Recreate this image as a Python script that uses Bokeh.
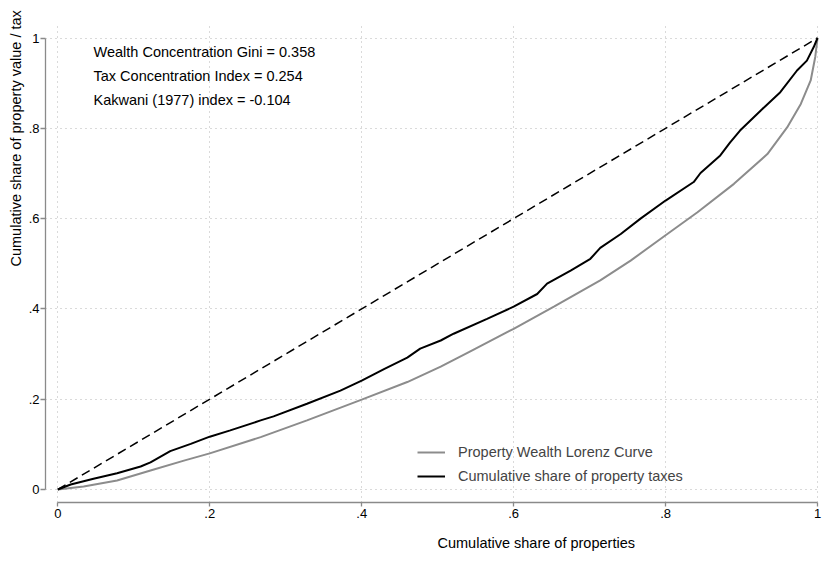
from bokeh.plotting import figure
from bokeh.models import Range1d, FixedTicker, Legend, LegendItem, ColumnDataSource, Title
from bokeh.core.properties import value
from bokeh.embed import file_html
from bokeh.resources import INLINE

# Property wealth Lorenz curve (cumulative share of properties vs. cumulative share of value)
lorenz_x = [0, .034, .078, .122, .166, .2, .267, .328, .4, .460, .504, .543, .6, .653,
            .714, .754, .8, .842, .890, .934, .960, .978, .991, .997, 1]
lorenz_y = [0, .0066, .020, .042, .064, .080, .116, .153, .199, .238, .272, .306, .356, .405,
            .463, .507, .563, .614, .677, .743, .802, .854, .906, .958, 1]

# Concentration curve of property taxes
tax_x = [0, .017, .047, .078, .109, .122, .148, .175, .2, .227, .267, .284, .328, .372, .4,
         .430, .460, .477, .504, .521, .565, .6, .631, .644, .675, .701, .714, .741, .767,
         .8, .837, .846, .872, .885, .898, .925, .951, .973, .986, .995, 1]
tax_y = [0, .011, .024, .036, .051, .060, .085, .101, .117, .131, .153, .162, .190, .219, .241,
         .267, .292, .312, .330, .345, .378, .405, .433, .456, .485, .511, .535, .566, .600,
         .640, .681, .701, .740, .769, .795, .839, .880, .928, .950, .980, 1]

# Line of equality
equal_x = [0, 1]
equal_y = [0, 1]

gini = 0.358
conc_index = 0.254
kakwani = -0.104
stats_text = [f"Wealth Concentration Gini = {gini:.3f}",
              f"Tax Concentration Index = {conc_index:.3f}",
              f"Kakwani (1977) index = {kakwani:.3f}"]
stats_x = [0.047, 0.047, 0.047]
stats_y = [0.968, 0.915, 0.862]

ticks = [0, 0.2, 0.4, 0.6, 0.8, 1]
tick_labels = ["0", ".2", ".4", ".6", ".8", "1"]

FONT = "Liberation Sans"
TEXT_SIZE = "14.5px"

p = figure(width=822, height=563, output_backend="svg", toolbar_location=None,
           x_range=Range1d(-0.0162, 1.0026), y_range=Range1d(-0.0288, 1.0277),
           min_border_left=45, min_border_right=3, min_border_top=25, min_border_bottom=61)
p.outline_line_color = None
p.background_fill_color = "white"

overrides = {t: l for t, l in zip(ticks, tick_labels)}

for ax in (p.xaxis[0], p.yaxis[0]):
    ax.ticker = FixedTicker(ticks=ticks)
    ax.major_label_overrides = overrides
    ax.bounds = (0, 1)
    ax.axis_line_color = "#8a8a8a"
    ax.axis_line_width = 1.3
    ax.major_tick_line_color = "#8a8a8a"
    ax.major_tick_line_width = 1.3
    ax.major_tick_in = 0
    ax.minor_tick_line_color = None
    ax.major_label_text_font = FONT
    ax.major_label_text_font_size = "13px"
    ax.major_label_text_color = "black"

p.xaxis.major_tick_out = 4
p.xaxis.major_label_standoff = 2
p.xaxis.major_label_text_align = "left"

p.yaxis.major_tick_out = 5
p.yaxis.major_label_standoff = 1
p.yaxis.major_label_orientation = "horizontal"
p.yaxis.major_label_text_baseline = "alphabetic"

# Axis titles start at the middle of each axis and run outward
x_title = Title(text="Cumulative share of properties", align="left", offset=392,
                text_font=FONT, text_font_size=TEXT_SIZE, text_font_style="normal",
                text_color="black", standoff=24)
p.add_layout(x_title, "below")

y_title = Title(text="Cumulative share of property value / tax", align="left", offset=236,
                text_font=FONT, text_font_size=TEXT_SIZE, text_font_style="normal",
                text_color="black", standoff=4)
p.add_layout(y_title, "left")

for g in (p.xgrid[0], p.ygrid[0]):
    g.ticker = FixedTicker(ticks=ticks)
    g.grid_line_color = "#b5b5b5"
    g.grid_line_dash = "1 4"
    g.grid_line_width = 1

p.line(equal_x, equal_y, line_color="black", line_width=1.5, line_dash="9 5")
r_lorenz = p.line(lorenz_x, lorenz_y, line_color="#8c8c8c", line_width=2)
r_tax = p.line(tax_x, tax_y, line_color="black", line_width=2)

src = ColumnDataSource(dict(x=stats_x, y=stats_y, t=stats_text))
p.text("x", "y", text="t", source=src, text_font=value(FONT), text_font_size=TEXT_SIZE,
       text_baseline="middle", text_align="left", text_color="black")

legend = Legend(items=[LegendItem(label="Property Wealth Lorenz Curve", renderers=[r_lorenz]),
                       LegendItem(label="Cumulative share of property taxes", renderers=[r_tax])],
                location=(372, 16), border_line_color=None, background_fill_alpha=0,
                padding=0, margin=0, spacing=4, glyph_width=28, glyph_height=20,
                label_height=20, label_standoff=13, label_text_font=FONT,
                label_text_font_size=TEXT_SIZE)
p.add_layout(legend)

open("out.html", "w").write(file_html(p, INLINE))
